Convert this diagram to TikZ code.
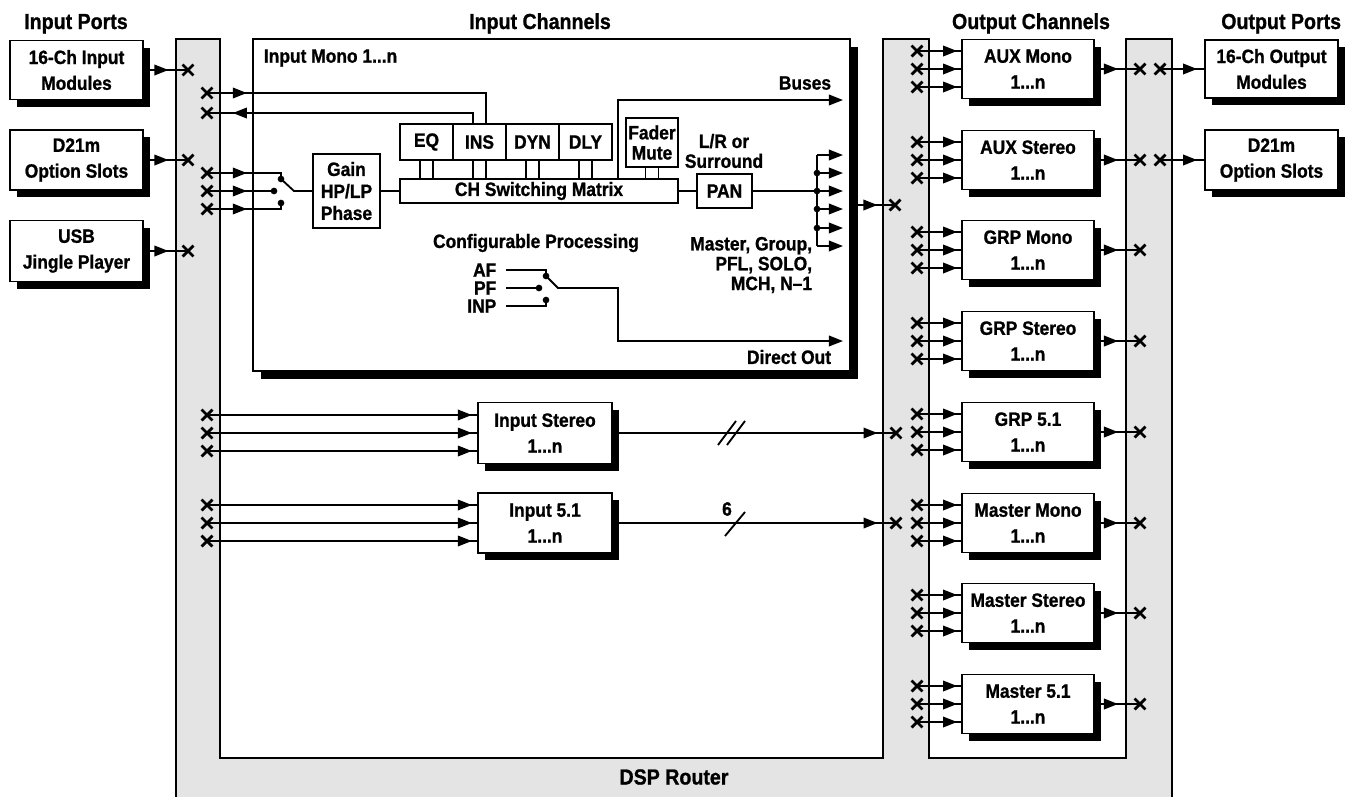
\documentclass[tikz,border=0pt]{standalone}
\usepackage{fontspec}
\setmainfont{Liberation Sans}[FakeStretch=0.9, BoldFeatures={FakeBold=1}]
\usetikzlibrary{shapes.misc,shadows,arrows.meta,decorations.markings}
\definecolor{routergray}{RGB}{227,228,227}
\tikzset{
  blk/.style={draw, fill=white, line width=1pt, align=center, inner sep=0pt,
    font=\fontsize{11}{14.7}\selectfont\bfseries},
  shd/.style={drop shadow={shadow xshift=0.14cm, shadow yshift=-0.14cm, fill=black, opacity=1}},
  xm/.style={cross out, draw, line width=1.6pt, minimum size=4.6pt, inner sep=0pt},
  lbl/.style={inner sep=0pt, font=\fontsize{11}{11.3}\selectfont\bfseries},
  ttl/.style={inner sep=0pt, font=\fontsize{12.4}{15}\selectfont\bfseries},
  jdot/.style={circle, fill, inner sep=0pt, minimum size=3.8pt},
  arr/.style={-{Triangle[length=8pt,width=6pt]}},
  midtip/.style={postaction={decorate, decoration={markings,
    mark=at position #1 with {\arrow{Triangle[length=8pt,width=6pt]}}}}},
}
\begin{document}
\begin{tikzpicture}[x=0.02cm, y=-0.02cm, line width=1.05pt]
\useasboundingbox (0,0) rectangle (1346,796);
\path[draw, line width=0.9pt, fill=routergray] (176,800) -- (176,39) -- (220,39) -- (220,758) -- (883,758) -- (883,39)
  -- (929,39) -- (929,758) -- (1126,758) -- (1126,39) -- (1172,39) -- (1172,800);
\node[ttl, anchor=base] (t1) at (76,29) {Input Ports};
\node[ttl, anchor=base] (t2) at (540,29) {Input Channels};
\node[ttl, anchor=base] (t3) at (1031,29) {Output Channels};
\node[ttl, anchor=base east] (t4) at (1342,29) {Output Ports};
\node[ttl] (dsp) at (674,777) {DSP Router};

\node[blk, shd, minimum width=2.66cm, minimum height=1.18cm] (in16) at (76.5,70) {16-Ch Input\\Modules};
\node[blk, shd, minimum width=2.66cm, minimum height=1.2cm] (d21in) at (76.5,160) {D21m\\Option Slots};
\node[blk, shd, minimum width=2.66cm, minimum height=1.22cm] (usb) at (76.5,251) {USB\\Jingle Player};
\node[xm] (p1) at (188,70) {};
\node[xm] (p2) at (188,160) {};
\node[xm] (p3) at (188,251) {};
\draw[midtip=14pt] (in16.east) -- (p1.center);
\draw[midtip=14pt] (d21in.east) -- (p2.center);
\draw[midtip=14pt] (usb.east) -- (p3.center);

\node[blk, drop shadow={shadow xshift=0.16cm, shadow yshift=-0.16cm, fill=black, opacity=1},
  minimum width=11.94cm, minimum height=6.64cm] (mono) at (551.5,205) {};
\node[lbl, anchor=west] (monot) at (263,58) {Input Mono 1...n};
\node[blk, minimum width=1.34cm, minimum height=1.48cm, font=\fontsize{11}{12.5}\selectfont\bfseries] (gain) at (346.5,191) {Gain\\HP/LP\\Phase};
\node[blk, minimum width=5.56cm, minimum height=0.48cm] (mtx) at (539,191) {CH Switching Matrix};
\node[blk, minimum width=1.06cm, minimum height=0.72cm] (eq) at (426.5,142) {EQ};
\node[blk, minimum width=1.06cm, minimum height=0.72cm] (ins) at (479.5,142) {INS};
\node[blk, minimum width=1.06cm, minimum height=0.72cm] (dyn) at (532.5,142) {DYN};
\node[blk, minimum width=1.06cm, minimum height=0.72cm] (dly) at (585.5,142) {DLY};
\node[blk, minimum width=1.04cm, minimum height=0.98cm, font=\fontsize{11}{11.5}\selectfont\bfseries] (fader) at (652,142.5) {Fader\\Mute};
\node[blk, minimum width=1.1cm, minimum height=0.68cm] (pan) at (724.5,191) {PAN};
\node[lbl, align=center] (lrs) at (724,151) {L/R or\\Surround};
\draw (gain.east) -- (mtx.west);
\draw (mtx.east) -- (pan.west);
\foreach \b in {eq,ins,dyn,dly,fader} {
  \draw ([xshift=-0.13cm]\b.south) -- ([xshift=-0.13cm]\b.south |- mtx.north);
  \draw ([xshift=0.13cm]\b.south) -- ([xshift=0.13cm]\b.south |- mtx.north);
}

\node[xm] (s1) at (207,93) {};
\node[xm] (s2) at (207,113) {};
\draw[midtip=22.7pt] (s1.center) -| ([xshift=0.13cm]ins.north);
\draw[midtip=-14.7pt] ([xshift=-0.13cm]ins.north) |- (s2.center);

\node[xm] (a1) at (207,173) {};
\node[xm] (a2) at (207,191) {};
\node[xm] (a3) at (207,209) {};
\node[jdot] (c1) at (281,179) {};
\node[jdot] (c2) at (274,191) {};
\node[jdot] (c3) at (281,203) {};
\draw[midtip=22.7pt] (a1.center) -| (c1.center);
\draw[midtip=22.7pt] (a2.center) -- (c2.center);
\draw[midtip=22.7pt] (a3.center) -| (c3.center);
\draw (c1.center) -- (294,191) -- (gain.west);

\coordinate (bus) at (843,100);
\draw[arr] ([xshift=1.58cm]mtx.north) |- (bus);
\node[lbl, anchor=east] (bust) at (832,83) {Buses};
\coordinate (fan) at (817,191);
\draw (pan.east) -- (fan);
\draw (817,155) -- (817,246);
\foreach \y in {155,173,191,209,228,246} \draw[arr] (817,\y) -- (843,\y);
\foreach \y in {173,191,209,228} \node[jdot] at (817,\y) {};
\node[lbl, anchor=east, align=right] (mst) at (813,265) {Master, Group,\\PFL, SOLO,\\MCH, N--1};

\node[lbl] (cfg) at (536,243) {Configurable Processing};
\node[lbl, anchor=east, inner xsep=5pt] (af) at (506,270) {AF};
\node[lbl, anchor=east, inner xsep=5pt] (pf) at (506,288) {PF};
\node[lbl, anchor=east, inner xsep=5pt] (inp) at (506,306) {INP};
\node[jdot] (k1) at (546,276) {};
\node[jdot] (k2) at (539,288) {};
\node[jdot] (k3) at (546,300) {};
\draw (af.east) -| (k1.center);
\draw (pf.east) -- (k2.center);
\draw (inp.east) -| (k3.center);
\coordinate (dout) at (843,341);
\draw[arr] (k1.center) -- (558,288) -- (618,288) |- (dout);
\node[lbl, anchor=east] (doutt) at (832,357) {Direct Out};

\node[xm] (mo) at (895,205) {};
\draw[midtip=-10pt] (mono.east) -- (mo.center);

\node[blk, shd, minimum width=2.68cm, minimum height=1.22cm] (ist) at (545,433) {Input Stereo\\1...n};
\node[blk, shd, minimum width=2.68cm, minimum height=1.2cm] (i51) at (545,523) {Input 5.1\\1...n};
\foreach \i/\y in {1/415,2/433,3/451} {
  \node[xm] (sx\i) at (207,\y) {};
  \draw[midtip=-3pt] (sx\i.center) -- (sx\i.center -| ist.west);
}
\foreach \i/\y in {1/505,2/523,3/541} {
  \node[xm] (fx\i) at (207,\y) {};
  \draw[midtip=-3pt] (fx\i.center) -- (fx\i.center -| i51.west);
}
\node[xm] (so) at (896,433) {};
\draw[midtip=-10.5pt] (ist.east) -- (so.center);
\draw (718,445) -- (736,421);
\draw (727,445) -- (745,421);
\node[xm] (fo) at (896,523) {};
\draw[midtip=-10.5pt] (i51.east) -- (fo.center);
\draw (725,536) -- (745,512);
\node[lbl] (six) at (727,509) {6};

\foreach \i/\yy/\t in {0/69/AUX Mono,1/160/AUX Stereo,2/250/GRP Mono,3/341/GRP Stereo,
    4/432/GRP 5.1,5/523/Master Mono,6/613/Master Stereo,7/704/Master 5.1} {
  \node[blk, shd, minimum width=2.64cm, minimum height=1.18cm] (oc\i) at (1028,\yy) {\t\\1...n};
  \foreach \j/\d in {1/-18,2/0,3/18} {
    \pgfmathsetmacro{\yj}{\yy+\d}
    \node[xm] (ix\i\j) at (917,\yj) {};
    \draw[midtip=-2.3pt] (ix\i\j.center) -- (ix\i\j.center -| oc\i.west);
  }
  \node[xm] (ox\i) at (1140,\yy) {};
  \draw[midtip=-12.5pt] (oc\i.east) -- (ox\i.center);
}

\node[blk, shd, minimum width=2.66cm, minimum height=1.16cm] (out16) at (1271.5,69) {16-Ch Output\\Modules};
\node[blk, shd, minimum width=2.66cm, minimum height=1.2cm] (d21out) at (1271.5,160) {D21m\\Option Slots};
\node[xm] (q1) at (1160,69) {};
\node[xm] (q2) at (1160,160) {};
\draw[midtip=-4pt] (q1.center) -- (out16.west);
\draw[midtip=-4pt] (q2.center) -- (d21out.west);
\end{tikzpicture}
\end{document}
